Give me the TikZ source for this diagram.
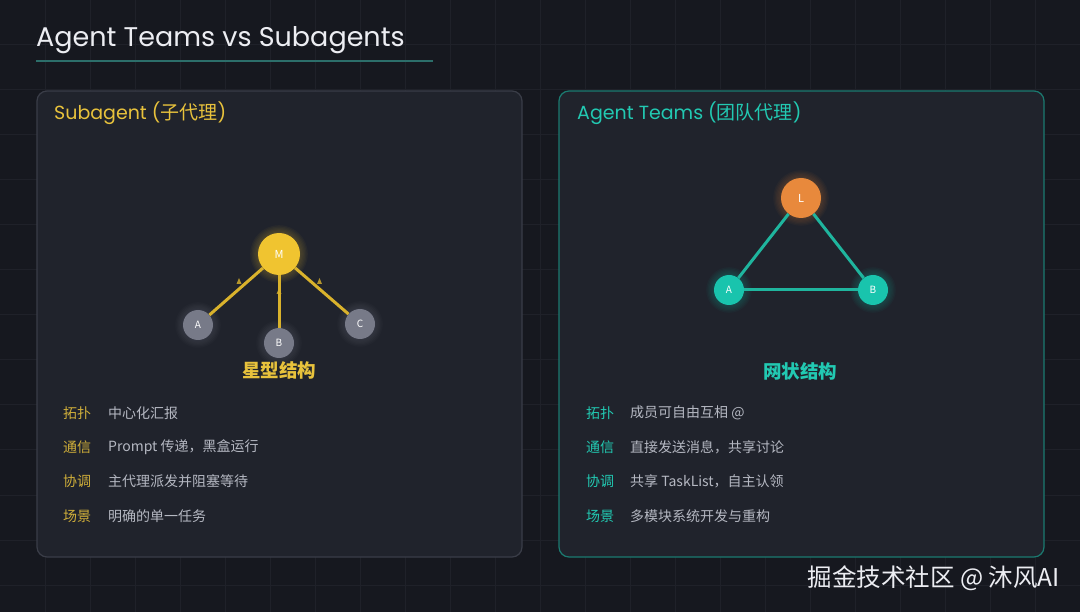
\documentclass[tikz,border=0pt]{standalone}
\usepackage{fontspec}
\setmainfont{Poppins}
\newfontfamily\cjk{Noto Sans CJK SC}
\usetikzlibrary{calc}
\definecolor{bgc}{HTML}{16181F}
\definecolor{gridc}{HTML}{1F2129}
\definecolor{panelc}{HTML}{20232C}
\definecolor{lborder}{HTML}{3A3D48}
\definecolor{rborder}{HTML}{1B7A70}
\definecolor{ylw}{HTML}{F0C430}
\definecolor{ylwline}{HTML}{D9B22C}
\definecolor{ylwtext}{HTML}{E8C23C}
\definecolor{ylwlab}{HTML}{CFAE3A}
\definecolor{grayn}{HTML}{777A88}
\definecolor{orng}{HTML}{E8893C}
\definecolor{teal}{HTML}{19C4AD}
\definecolor{tealline}{HTML}{1FB59E}
\definecolor{tealtext}{HTML}{22C9B2}
\definecolor{tealdim}{HTML}{2C6E6A}
\definecolor{valc}{HTML}{B5B8C2}
\definecolor{titlec}{HTML}{ECEDF2}
\newcommand{\glowat}[4]{%
  \foreach \k in {1,...,6}{%
    \fill[#4, opacity=0.04] (#1,#2) circle ({#3+\k*1.3});}}
\tikzset{
  panel/.style={draw, line width=1.2pt, fill=panelc, rounded corners=10pt, minimum width=485pt, minimum height=466pt, inner sep=0pt},
  bignode/.style={circle, inner sep=0pt, minimum size=42pt, text=white, font=\cjk\fontsize{11}{11}\selectfont},
  smallnode/.style={circle, inner sep=0pt, minimum size=30pt, text=white, font=\cjk\fontsize{10}{10}\selectfont},
  ptitle/.style={anchor=west, inner sep=0pt, font=\fontsize{19}{19}\selectfont},
  lab/.style={anchor=west, inner sep=0pt, font=\cjk\fontsize{14}{14}\selectfont},
  val/.style={anchor=west, inner sep=0pt, text=valc, font=\cjk\fontsize{14}{14}\selectfont},
  struct/.style={inner sep=0pt, font=\cjk\bfseries\fontsize{18.5}{18.5}\selectfont},
  tri/.style={fill=ylwline, opacity=0.8}
}
\begin{document}
\begin{tikzpicture}[x=1pt,y=-1pt]
\useasboundingbox (0,0) rectangle (1080,612);
\fill[bgc] (0,0) rectangle (1080,612);
\foreach \gx in {45,90,...,1080} \draw[gridc, line width=1pt] (\gx,0) -- (\gx,612);
\foreach \gy in {45,90,...,612} \draw[gridc, line width=1pt] (0,\gy) -- (1080,\gy);
% title
\node[anchor=base west, inner sep=0pt, text=titlec, font=\fontsize{27}{27}\selectfont] (title) at (36,47) {Agent Teams vs Subagents};
\coordinate (ul1) at (36,61); \coordinate (ul2) at (433,61);
\draw[tealdim, line width=2pt] (ul1) -- (ul2);
% panels
\node[panel, draw=lborder] (lp) at (279.5,324) {};
\node[panel, draw=rborder] (rp) at (801.5,324) {};
\node[ptitle, text=ylwtext] (lt) at (54,113) {Subagent ({\cjk 子代理})};
\node[ptitle, text=tealtext] (rt) at (577,113) {Agent Teams ({\cjk 团队代理})};
% star
\glowat{279}{254}{21}{ylw}
\glowat{198}{325}{15}{grayn}
\glowat{279}{343}{15}{grayn}
\glowat{360}{324}{15}{grayn}
\node[bignode, fill=ylw] (M) at (279,254) {M};
\node[smallnode, fill=grayn] (A) at (198,325) {A};
\node[smallnode, fill=grayn] (B) at (279,343) {B};
\node[smallnode, fill=grayn] (C) at (360,324) {C};
\foreach \n in {A,B,C} \draw[ylwline, line width=3pt] (\n) -- (M);
\fill[tri] (239,278) -- (236.5,284) -- (241.5,284) -- cycle;
\fill[tri] (279,288) -- (276.5,294) -- (281.5,294) -- cycle;
\fill[tri] (319.5,278) -- (317,284) -- (322,284) -- cycle;
\node[struct, text=ylwtext] (sl) at (279,370) {星型结构};
% mesh
\glowat{801}{198}{20}{orng}
\glowat{729}{290}{15}{teal}
\glowat{873}{290}{15}{teal}
\node[bignode, minimum size=40pt, fill=orng] (L) at (801,198) {L};
\node[smallnode, fill=teal] (TA) at (729,290) {A};
\node[smallnode, fill=teal] (TB) at (873,290) {B};
\draw[tealline, line width=3pt] (L) -- (TA);
\draw[tealline, line width=3pt] (L) -- (TB);
\draw[tealline, line width=3pt] (TA) -- (TB);
\node[struct, text=tealtext] (ml) at (800,371) {网状结构};
% left list
\node[lab, text=ylwlab] (l1) at (63,413) {拓扑};
\node[lab, text=ylwlab] (l2) at (63,447) {通信};
\node[lab, text=ylwlab] (l3) at (63,481) {协调};
\node[lab, text=ylwlab] (l4) at (63,516) {场景};
\node[val] (v1) at (108,413) {中心化汇报};
\node[val] (v2) at (108,447) {Prompt 传递，黑盒运行};
\node[val] (v3) at (108,481) {主代理派发并阻塞等待};
\node[val] (v4) at (108,516) {明确的单一任务};
% right list
\node[lab, text=tealtext] (r1) at (586,413) {拓扑};
\node[lab, text=tealtext] (r2) at (586,447) {通信};
\node[lab, text=tealtext] (r3) at (586,481) {协调};
\node[lab, text=tealtext] (r4) at (586,516) {场景};
\node[val] (w1) at (630,413) {成员可自由互相 @};
\node[val] (w2) at (630,447) {直接发送消息，共享讨论};
\node[val] (w3) at (630,481) {共享 TaskList，自主认领};
\node[val] (w4) at (630,516) {多模块系统开发与重构};
% watermark
\node[anchor=east, inner sep=0pt, text=titlec, font=\cjk\fontsize{24.5}{24.5}\selectfont] (wm) at (1060,578) {掘金技术社区 @ 沐风AI};
\end{tikzpicture}
\end{document}
